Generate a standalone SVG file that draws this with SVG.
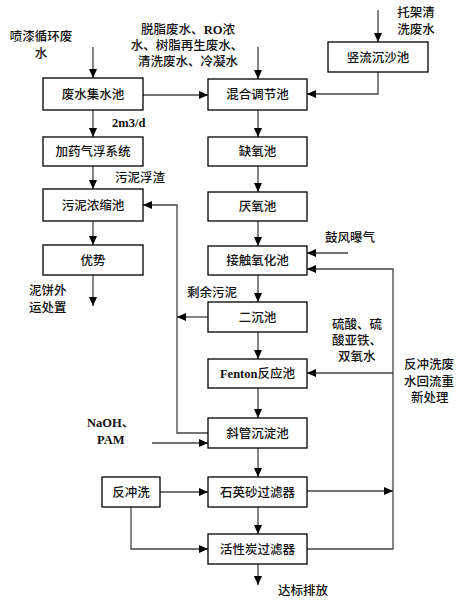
<svg xmlns="http://www.w3.org/2000/svg" width="463" height="604" viewBox="0 0 463 604">
<defs>
<marker id="ah" markerUnits="userSpaceOnUse" markerWidth="10" markerHeight="8" refX="9" refY="4" orient="auto">
<path d="M0,0 L9,4 L0,8 Z" fill="#000"/>
</marker>
<style>
.box{fill:#fff;stroke:#000;stroke-width:1.3}
.ln{fill:none;stroke:#444;stroke-width:1.3}
.ar{marker-end:url(#ah)}
text{font-family:"Liberation Serif","Noto Sans CJK SC",serif;font-size:12.5px;font-weight:500;fill:#111}
.b{font-weight:bold}
.c{text-anchor:middle}
</style>
</defs>
<rect width="463" height="604" fill="#fff"/>
<g id="connectors">
<path class="ln ar" d="M93,47 V78"/>
<path class="ln ar" d="M258,47 V79"/>
<path class="ln ar" d="M378,10 V42"/>
<path class="ln ar" d="M378,72 V94 H307"/>
<path class="ln ar" d="M143,95 H208"/>
<path class="ln ar" d="M93,110 V137"/>
<path class="ln ar" d="M93,166 V189"/>
<path class="ln ar" d="M93,221 V245"/>
<path class="ln ar" d="M93,275 V306"/>
<path class="ln ar" d="M258,110 V137"/>
<path class="ln ar" d="M258,166 V192"/>
<path class="ln ar" d="M258,221 V246"/>
<path class="ln ar" d="M258,275 V302"/>
<path class="ln ar" d="M258,332 V359"/>
<path class="ln ar" d="M258,388 V418"/>
<path class="ln ar" d="M258,448 V477"/>
<path class="ln ar" d="M258,507 V534"/>
<path class="ln ar" d="M258,564 V585"/>
<path class="ln ar" d="M348,253 H307"/>
<path class="ln ar" d="M307,549 H393 V269 H307"/>
<path class="ln ar" d="M393,373 H307"/>
<path class="ln ar" d="M307,491 H393"/>
<path class="ln ar" d="M208,433 H177 V205 H143"/>
<path class="ln ar" d="M208,317 H177"/>
<path class="ln ar" d="M152,443 H208"/>
<path class="ln ar" d="M160,492 H208"/>
<path class="ln ar" d="M131,507 V549 H208"/>
</g>
<g id="n-feishui"><rect class="box" x="43" y="78" width="100" height="32"/><text class="c" x="93" y="98.5">废水集水池</text></g>
<g id="n-jiayao"><rect class="box" x="43" y="137" width="100" height="29"/><text class="c" x="93" y="156">加药气浮系统</text></g>
<g id="n-wuni"><rect class="box" x="43" y="189" width="100" height="32"/><text class="c" x="93" y="209.5">污泥浓缩池</text></g>
<g id="n-youshi"><rect class="box" x="43" y="245" width="100" height="30"/><text class="c" x="93" y="264.5">优势</text></g>
<g id="n-hunhe"><rect class="box" x="208" y="79" width="99" height="31"/><text class="c" x="257.5" y="99">混合调节池</text></g>
<g id="n-queyang"><rect class="box" x="208" y="137" width="99" height="29"/><text class="c" x="257.5" y="156">缺氧池</text></g>
<g id="n-yanyang"><rect class="box" x="208" y="192" width="99" height="29"/><text class="c" x="257.5" y="211">厌氧池</text></g>
<g id="n-jiechu"><rect class="box" x="208" y="246" width="99" height="29"/><text class="c" x="257.5" y="265">接触氧化池</text></g>
<g id="n-erchen"><rect class="box" x="208" y="302" width="99" height="30"/><text class="c" x="257.5" y="321.5">二沉池</text></g>
<g id="n-fenton"><rect class="box" x="208" y="359" width="99" height="29"/><text class="c" x="257.5" y="378"><tspan class="b">Fenton</tspan>反应池</text></g>
<g id="n-xieguan"><rect class="box" x="208" y="418" width="99" height="30"/><text class="c" x="257.5" y="437.5">斜管沉淀池</text></g>
<g id="n-shiying"><rect class="box" x="208" y="477" width="99" height="30"/><text class="c" x="257.5" y="496.5">石英砂过滤器</text></g>
<g id="n-huoxing"><rect class="box" x="208" y="534" width="99" height="30"/><text class="c" x="257.5" y="553.5">活性炭过滤器</text></g>
<g id="n-shuliu"><rect class="box" x="328" y="42" width="100" height="30"/><text class="c" x="378" y="61.5">竖流沉沙池</text></g>
<g id="n-fanchong"><rect class="box" x="102" y="477" width="58" height="30"/><text class="c" x="131" y="496.5">反冲洗</text></g>
<g id="labels">
<text class="c" x="41" y="41">喷漆循环废</text>
<text class="c" x="41" y="58">水</text>
<text class="c" x="188" y="34">脱脂废水、<tspan class="b">RO</tspan>浓</text>
<text class="c" x="187" y="50">水、树脂再生废水、</text>
<text class="c" x="188" y="66">清洗废水、冷凝水</text>
<text class="c" x="416" y="17">托架清</text>
<text class="c" x="416" y="34">洗废水</text>
<text class="b" x="112" y="127">2m3/d</text>
<text x="115" y="182">污泥浮渣</text>
<text x="29" y="295">泥饼外</text>
<text x="29" y="312">运处置</text>
<text x="187" y="297">剩余污泥</text>
<text x="325" y="242">鼓风曝气</text>
<text x="332" y="329">硫酸、硫</text>
<text x="332" y="345">酸亚铁、</text>
<text x="338" y="361">双氧水</text>
<text x="404" y="369">反冲洗废</text>
<text x="404" y="386">水回流重</text>
<text x="411" y="402">新处理</text>
<text x="87" y="427"><tspan class="b">NaOH</tspan>、</text>
<text class="b" x="97" y="444">PAM</text>
<text x="278" y="595">达标排放</text>
</g>
</svg>
